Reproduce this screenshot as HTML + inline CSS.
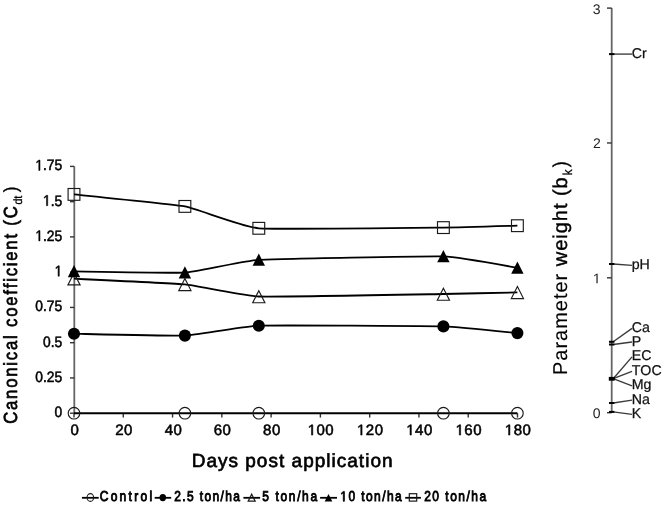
<!DOCTYPE html>
<html><head><meta charset="utf-8"><style>
html,body{margin:0;padding:0;background:#fff;overflow:hidden;}
svg{display:block;will-change:transform;}
text{font-family:"Liberation Sans",sans-serif;text-rendering:geometricPrecision;font-kerning:none;}
</style></head><body>
<svg width="666" height="507" viewBox="0 0 666 507">
<line x1="74.3" y1="166.4" x2="74.3" y2="413.2" stroke="#666" stroke-width="1.8"/>
<line x1="70" y1="413.20" x2="74.3" y2="413.20" stroke="#333" stroke-width="1.4"/>
<line x1="70" y1="377.94" x2="74.3" y2="377.94" stroke="#333" stroke-width="1.4"/>
<line x1="70" y1="342.69" x2="74.3" y2="342.69" stroke="#333" stroke-width="1.4"/>
<line x1="70" y1="307.43" x2="74.3" y2="307.43" stroke="#333" stroke-width="1.4"/>
<line x1="70" y1="272.17" x2="74.3" y2="272.17" stroke="#333" stroke-width="1.4"/>
<line x1="70" y1="236.91" x2="74.3" y2="236.91" stroke="#333" stroke-width="1.4"/>
<line x1="70" y1="201.66" x2="74.3" y2="201.66" stroke="#333" stroke-width="1.4"/>
<line x1="70" y1="166.40" x2="74.3" y2="166.40" stroke="#333" stroke-width="1.4"/>
<line x1="74.00" y1="413.2" x2="74.00" y2="417.6" stroke="#333" stroke-width="1.4"/>
<line x1="123.28" y1="413.2" x2="123.28" y2="417.6" stroke="#333" stroke-width="1.4"/>
<line x1="172.56" y1="413.2" x2="172.56" y2="417.6" stroke="#333" stroke-width="1.4"/>
<line x1="221.83" y1="413.2" x2="221.83" y2="417.6" stroke="#333" stroke-width="1.4"/>
<line x1="271.11" y1="413.2" x2="271.11" y2="417.6" stroke="#333" stroke-width="1.4"/>
<line x1="320.39" y1="413.2" x2="320.39" y2="417.6" stroke="#333" stroke-width="1.4"/>
<line x1="369.67" y1="413.2" x2="369.67" y2="417.6" stroke="#333" stroke-width="1.4"/>
<line x1="418.94" y1="413.2" x2="418.94" y2="417.6" stroke="#333" stroke-width="1.4"/>
<line x1="468.22" y1="413.2" x2="468.22" y2="417.6" stroke="#333" stroke-width="1.4"/>
<line x1="517.50" y1="413.2" x2="517.50" y2="417.6" stroke="#333" stroke-width="1.4"/>
<g transform="translate(54.46,417.20) scale(0.92,1)"><text x="0.000" y="0" font-size="15" font-weight="normal" letter-spacing="0.000" fill="#000" stroke="#000" stroke-width="0.55">0</text></g>
<g transform="translate(35.32,381.94) scale(0.92,1)"><text x="0.000" y="0" font-size="15" font-weight="normal" letter-spacing="0.000" fill="#000" stroke="#000" stroke-width="0.55">0.25</text></g>
<g transform="translate(43.00,346.69) scale(0.92,1)"><text x="0.000" y="0" font-size="15" font-weight="normal" letter-spacing="0.000" fill="#000" stroke="#000" stroke-width="0.55">0.5</text></g>
<g transform="translate(35.32,311.43) scale(0.92,1)"><text x="0.000" y="0" font-size="15" font-weight="normal" letter-spacing="0.000" fill="#000" stroke="#000" stroke-width="0.55">0.75</text></g>
<g transform="translate(54.60,276.17) scale(0.92,1)"><path transform="translate(0.000,0) scale(0.007324,-0.007324)" d="M515,0L515,1237L197,1010L197,1180L530,1409L696,1409L696,0Z" fill="#000" stroke="#000" stroke-width="75.1"/></g>
<g transform="translate(35.32,240.91) scale(0.92,1)"><path transform="translate(0.000,0) scale(0.007324,-0.007324)" d="M515,0L515,1237L197,1010L197,1180L530,1409L696,1409L696,0Z" fill="#000" stroke="#000" stroke-width="75.1"/><text x="8.342" y="0" font-size="15" font-weight="normal" letter-spacing="0.000" fill="#000" stroke="#000" stroke-width="0.55">.25</text></g>
<g transform="translate(43.00,205.66) scale(0.92,1)"><path transform="translate(0.000,0) scale(0.007324,-0.007324)" d="M515,0L515,1237L197,1010L197,1180L530,1409L696,1409L696,0Z" fill="#000" stroke="#000" stroke-width="75.1"/><text x="8.342" y="0" font-size="15" font-weight="normal" letter-spacing="0.000" fill="#000" stroke="#000" stroke-width="0.55">.5</text></g>
<g transform="translate(35.32,170.40) scale(0.92,1)"><path transform="translate(0.000,0) scale(0.007324,-0.007324)" d="M515,0L515,1237L197,1010L197,1180L530,1409L696,1409L696,0Z" fill="#000" stroke="#000" stroke-width="75.1"/><text x="8.342" y="0" font-size="15" font-weight="normal" letter-spacing="0.000" fill="#000" stroke="#000" stroke-width="0.55">.75</text></g>
<g transform="translate(70.43,435.1)"><text x="0.000" y="0" font-size="15" font-weight="normal" letter-spacing="0.500" fill="#000" stroke="#000" stroke-width="0.55">0</text></g>
<g transform="translate(115.20,435.1)"><text x="0.000" y="0" font-size="15" font-weight="normal" letter-spacing="0.500" fill="#000" stroke="#000" stroke-width="0.55">20</text></g>
<g transform="translate(164.68,435.1)"><text x="0.000" y="0" font-size="15" font-weight="normal" letter-spacing="0.500" fill="#000" stroke="#000" stroke-width="0.55">40</text></g>
<g transform="translate(213.75,435.1)"><text x="0.000" y="0" font-size="15" font-weight="normal" letter-spacing="0.500" fill="#000" stroke="#000" stroke-width="0.55">60</text></g>
<g transform="translate(263.09,435.1)"><text x="0.000" y="0" font-size="15" font-weight="normal" letter-spacing="0.500" fill="#000" stroke="#000" stroke-width="0.55">80</text></g>
<g transform="translate(307.70,435.1)"><path transform="translate(0.000,0) scale(0.007324,-0.007324)" d="M515,0L515,1237L197,1010L197,1180L530,1409L696,1409L696,0Z" fill="#000" stroke="#000" stroke-width="75.1"/><text x="8.842" y="0" font-size="15" font-weight="normal" letter-spacing="0.500" fill="#000" stroke="#000" stroke-width="0.55">00</text></g>
<g transform="translate(356.97,435.1)"><path transform="translate(0.000,0) scale(0.007324,-0.007324)" d="M515,0L515,1237L197,1010L197,1180L530,1409L696,1409L696,0Z" fill="#000" stroke="#000" stroke-width="75.1"/><text x="8.842" y="0" font-size="15" font-weight="normal" letter-spacing="0.500" fill="#000" stroke="#000" stroke-width="0.55">20</text></g>
<g transform="translate(406.25,435.1)"><path transform="translate(0.000,0) scale(0.007324,-0.007324)" d="M515,0L515,1237L197,1010L197,1180L530,1409L696,1409L696,0Z" fill="#000" stroke="#000" stroke-width="75.1"/><text x="8.842" y="0" font-size="15" font-weight="normal" letter-spacing="0.500" fill="#000" stroke="#000" stroke-width="0.55">40</text></g>
<g transform="translate(455.53,435.1)"><path transform="translate(0.000,0) scale(0.007324,-0.007324)" d="M515,0L515,1237L197,1010L197,1180L530,1409L696,1409L696,0Z" fill="#000" stroke="#000" stroke-width="75.1"/><text x="8.842" y="0" font-size="15" font-weight="normal" letter-spacing="0.500" fill="#000" stroke="#000" stroke-width="0.55">60</text></g>
<g transform="translate(504.81,435.1)"><path transform="translate(0.000,0) scale(0.007324,-0.007324)" d="M515,0L515,1237L197,1010L197,1180L530,1409L696,1409L696,0Z" fill="#000" stroke="#000" stroke-width="75.1"/><text x="8.842" y="0" font-size="15" font-weight="normal" letter-spacing="0.500" fill="#000" stroke="#000" stroke-width="0.55">80</text></g>
<g transform="translate(191.64,467.30) scale(1.0,1)"><text x="0.000" y="0" font-size="19" font-weight="normal" letter-spacing="1.015" fill="#000" stroke="#000" stroke-width="0.65">Days post application</text></g>
<g transform="translate(17.40,423.85) rotate(-90) scale(0.88,1)"><text x="0.000" y="0" font-size="19" font-weight="normal" letter-spacing="2.026" fill="#000" stroke="#000" stroke-width="0.7">Canonical coefficient (C</text></g>
<g transform="translate(22.20,204.45) rotate(-90) scale(0.9,1)"><text x="0.000" y="0" font-size="12" font-weight="normal" letter-spacing="-0.416" fill="#000" stroke="#000" stroke-width="0.25">dt</text></g>
<g transform="translate(17.40,192.30) rotate(-90) scale(0.9,1)"><text x="0.000" y="0" font-size="19" font-weight="normal" letter-spacing="-5.000" fill="#000" stroke="#000" stroke-width="0.35">)</text></g>
<g transform="translate(567.2,375.04) rotate(-90)"><text x="0.000" y="0" font-size="20" font-weight="normal" letter-spacing="0.983" fill="#000" stroke="#000" stroke-width="0.12">Parameter </text></g>
<g transform="translate(567.2,266.28) rotate(-90)"><text x="0.000" y="0" font-size="20" font-weight="normal" letter-spacing="0.983" fill="#000" stroke="#000" stroke-width="0.4">weight (b</text></g>
<g transform="translate(571.60,175.29) rotate(-90) scale(0.9,1)"><text x="0.000" y="0" font-size="13" font-weight="normal" letter-spacing="-5.000" fill="#000" stroke="#000" stroke-width="0.3">k</text></g>
<g transform="translate(567.20,167.31) rotate(-90) scale(0.9,1)"><text x="0.000" y="0" font-size="20" font-weight="normal" letter-spacing="-5.000" fill="#000" stroke="#000" stroke-width="0.3">)</text></g>
<path d="M74.00,413.20 C80.65,413.20 173.81,413.20 184.90,413.20 C195.99,413.20 243.29,413.20 258.80,413.20 C274.31,413.20 427.88,413.20 443.40,413.20 C458.92,413.20 512.96,413.20 517.40,413.20" fill="none" stroke="#000" stroke-width="1.85" stroke-linejoin="round"/>
<path d="M74.00,333.70 C80.65,333.81 173.81,336.08 184.90,335.60 C195.99,335.12 243.29,326.25 258.80,325.70 C274.31,325.15 427.88,325.96 443.40,326.40 C458.92,326.84 512.96,332.70 517.40,333.10" fill="none" stroke="#000" stroke-width="1.85" stroke-linejoin="round"/>
<path d="M74.00,278.70 C80.65,279.04 173.81,283.33 184.90,284.40 C195.99,285.47 243.29,295.92 258.80,296.50 C274.31,297.08 427.88,294.25 443.40,294.00 C458.92,293.75 512.96,292.50 517.40,292.40" fill="none" stroke="#000" stroke-width="1.85" stroke-linejoin="round"/>
<path d="M74.00,271.40 C80.65,271.47 173.81,273.30 184.90,272.60 C195.99,271.90 243.29,260.77 258.80,259.80 C274.31,258.83 427.88,255.92 443.40,256.40 C458.92,256.88 512.96,267.12 517.40,267.80" fill="none" stroke="#000" stroke-width="1.85" stroke-linejoin="round"/>
<path d="M74.00,194.40 C80.65,195.12 173.81,204.37 184.90,206.40 C195.99,208.43 243.29,227.03 258.80,228.30 C274.31,229.57 427.88,227.76 443.40,227.60 C458.92,227.44 512.96,225.81 517.40,225.70" fill="none" stroke="#000" stroke-width="1.85" stroke-linejoin="round"/>
<ellipse cx="74.00" cy="413.20" rx="5.8" ry="5.8" fill="none" stroke="#1a1a1a" stroke-width="1.15"/>
<ellipse cx="184.90" cy="413.20" rx="5.8" ry="5.8" fill="none" stroke="#1a1a1a" stroke-width="1.15"/>
<ellipse cx="258.80" cy="413.20" rx="5.8" ry="5.8" fill="none" stroke="#1a1a1a" stroke-width="1.15"/>
<ellipse cx="443.40" cy="413.20" rx="5.8" ry="5.8" fill="none" stroke="#1a1a1a" stroke-width="1.15"/>
<ellipse cx="517.40" cy="413.20" rx="5.8" ry="5.8" fill="none" stroke="#1a1a1a" stroke-width="1.15"/>
<ellipse cx="74.00" cy="333.70" rx="6.05" ry="6.05" fill="#000"/>
<ellipse cx="184.90" cy="335.60" rx="6.05" ry="6.05" fill="#000"/>
<ellipse cx="258.80" cy="325.70" rx="6.05" ry="6.05" fill="#000"/>
<ellipse cx="443.40" cy="326.40" rx="6.05" ry="6.05" fill="#000"/>
<ellipse cx="517.40" cy="333.10" rx="6.05" ry="6.05" fill="#000"/>
<polygon points="74.00,272.90 80.10,284.90 67.90,284.90" fill="none" stroke="#1a1a1a" stroke-width="1.15"/>
<polygon points="184.90,278.60 191.00,290.60 178.80,290.60" fill="none" stroke="#1a1a1a" stroke-width="1.15"/>
<polygon points="258.80,290.70 264.90,302.70 252.70,302.70" fill="none" stroke="#1a1a1a" stroke-width="1.15"/>
<polygon points="443.40,288.20 449.50,300.20 437.30,300.20" fill="none" stroke="#1a1a1a" stroke-width="1.15"/>
<polygon points="517.40,286.60 523.50,298.60 511.30,298.60" fill="none" stroke="#1a1a1a" stroke-width="1.15"/>
<polygon points="74.00,265.10 80.20,277.30 67.80,277.30" fill="#000"/>
<polygon points="184.90,266.30 191.10,278.50 178.70,278.50" fill="#000"/>
<polygon points="258.80,253.50 265.00,265.70 252.60,265.70" fill="#000"/>
<polygon points="443.40,250.10 449.60,262.30 437.20,262.30" fill="#000"/>
<polygon points="517.40,261.50 523.60,273.70 511.20,273.70" fill="#000"/>
<rect x="68.10" y="188.50" width="11.8" height="11.8" fill="none" stroke="#1a1a1a" stroke-width="1.15"/>
<rect x="179.00" y="200.50" width="11.8" height="11.8" fill="none" stroke="#1a1a1a" stroke-width="1.15"/>
<rect x="252.90" y="222.40" width="11.8" height="11.8" fill="none" stroke="#1a1a1a" stroke-width="1.15"/>
<rect x="437.50" y="221.70" width="11.8" height="11.8" fill="none" stroke="#1a1a1a" stroke-width="1.15"/>
<rect x="511.50" y="219.80" width="11.8" height="11.8" fill="none" stroke="#1a1a1a" stroke-width="1.15"/>
<line x1="81.9" y1="497.8" x2="98.7" y2="497.8" stroke="#000" stroke-width="1.8"/>
<ellipse cx="90.35" cy="497.50" rx="3.3" ry="3.9" fill="none" stroke="#1a1a1a" stroke-width="1.1"/>
<g transform="translate(99.69,501.30) scale(0.84,1)"><text x="0.000" y="0" font-size="14.3" font-weight="normal" letter-spacing="2.717" fill="#000" stroke="#000" stroke-width="0.9">Control</text></g>
<line x1="154.7" y1="497.8" x2="171.2" y2="497.8" stroke="#000" stroke-width="1.8"/>
<ellipse cx="162.80" cy="497.60" rx="3.3" ry="3.7" fill="#000"/>
<g transform="translate(174.30,501.30) scale(0.84,1)"><text x="0.000" y="0" font-size="14.3" font-weight="normal" letter-spacing="1.623" fill="#000" stroke="#000" stroke-width="0.9">2.5 ton/ha</text></g>
<line x1="243.4" y1="497.8" x2="260.1" y2="497.8" stroke="#000" stroke-width="1.8"/>
<polygon points="251.70,494.20 255.20,501.20 248.20,501.20" fill="none" stroke="#1a1a1a" stroke-width="1.2"/>
<g transform="translate(262.32,501.30) scale(0.84,1)"><text x="0.000" y="0" font-size="14.3" font-weight="normal" letter-spacing="1.933" fill="#000" stroke="#000" stroke-width="0.9">5 ton/ha</text></g>
<line x1="320.1" y1="497.8" x2="337.0" y2="497.8" stroke="#000" stroke-width="1.8"/>
<polygon points="328.50,494.00 332.30,501.40 324.70,501.40" fill="#000"/>
<g transform="translate(340.29,501.30) scale(0.84,1)"><path transform="translate(0.000,0) scale(0.006982,-0.006982)" d="M515,0L515,1237L197,1010L197,1180L530,1409L696,1409L696,0Z" fill="#000" stroke="#000" stroke-width="128.9"/><text x="9.638" y="0" font-size="14.3" font-weight="normal" letter-spacing="1.685" fill="#000" stroke="#000" stroke-width="0.9">0 ton/ha</text></g>
<line x1="405.2" y1="497.8" x2="420.9" y2="497.8" stroke="#000" stroke-width="1.8"/>
<rect x="409.30" y="493.70" width="7.4" height="7.4" fill="none" stroke="#1a1a1a" stroke-width="1.2"/>
<g transform="translate(424.20,501.30) scale(0.84,1)"><text x="0.000" y="0" font-size="14.3" font-weight="normal" letter-spacing="1.757" fill="#000" stroke="#000" stroke-width="0.9">20 ton/ha</text></g>
<line x1="611.7" y1="8.1" x2="611.7" y2="412.7" stroke="#666" stroke-width="1.8"/>
<line x1="607" y1="412.70" x2="611.7" y2="412.70" stroke="#333" stroke-width="1.4"/>
<g transform="translate(592.76,418.20)"><text x="0.000" y="0" font-size="14" font-weight="normal" letter-spacing="0.000" fill="#222">0</text></g>
<line x1="607" y1="277.83" x2="611.7" y2="277.83" stroke="#333" stroke-width="1.4"/>
<g transform="translate(592.90,283.33)"><path transform="translate(0.000,0) scale(0.006836,-0.006836)" d="M515,0L515,1237L197,1010L197,1180L530,1409L696,1409L696,0Z" fill="#222"/></g>
<line x1="607" y1="142.97" x2="611.7" y2="142.97" stroke="#333" stroke-width="1.4"/>
<g transform="translate(592.92,148.47)"><text x="0.000" y="0" font-size="14" font-weight="normal" letter-spacing="0.000" fill="#222">2</text></g>
<line x1="607" y1="8.10" x2="611.7" y2="8.10" stroke="#333" stroke-width="1.4"/>
<g transform="translate(592.83,13.60)"><text x="0.000" y="0" font-size="14" font-weight="normal" letter-spacing="0.000" fill="#222">3</text></g>
<line x1="613.2" y1="54.1" x2="632" y2="54.1" stroke="#3a3a3a" stroke-width="1.35"/>
<line x1="613.2" y1="264.0" x2="632" y2="265.4" stroke="#3a3a3a" stroke-width="1.35"/>
<line x1="613.2" y1="341.8" x2="632" y2="328.4" stroke="#3a3a3a" stroke-width="1.35"/>
<line x1="613.2" y1="344.5" x2="632" y2="342.0" stroke="#3a3a3a" stroke-width="1.35"/>
<line x1="613.2" y1="378.7" x2="632" y2="356.9" stroke="#3a3a3a" stroke-width="1.35"/>
<line x1="613.2" y1="378.7" x2="632" y2="371.3" stroke="#3a3a3a" stroke-width="1.35"/>
<line x1="613.2" y1="378.7" x2="632" y2="385.9" stroke="#3a3a3a" stroke-width="1.35"/>
<line x1="613.2" y1="403.0" x2="632" y2="400.2" stroke="#3a3a3a" stroke-width="1.35"/>
<line x1="613.2" y1="411.9" x2="632" y2="414.4" stroke="#3a3a3a" stroke-width="1.35"/>
<line x1="609" y1="54.1" x2="614.4" y2="54.1" stroke="#000" stroke-width="2"/>
<text x="631.7" y="57.60" font-size="14.2" fill="#111" stroke="#111" stroke-width="0.25">Cr</text>
<line x1="609" y1="264.0" x2="614.4" y2="264.0" stroke="#000" stroke-width="2"/>
<text x="631.7" y="268.90" font-size="14.2" fill="#111" stroke="#111" stroke-width="0.25">pH</text>
<line x1="609" y1="341.8" x2="614.4" y2="341.8" stroke="#000" stroke-width="2"/>
<text x="631.7" y="331.90" font-size="14.2" fill="#111" stroke="#111" stroke-width="0.25">Ca</text>
<line x1="609" y1="344.5" x2="614.4" y2="344.5" stroke="#000" stroke-width="2"/>
<text x="631.7" y="345.50" font-size="14.2" fill="#111" stroke="#111" stroke-width="0.25">P</text>
<line x1="609" y1="378.7" x2="614.4" y2="378.7" stroke="#000" stroke-width="2"/>
<text x="631.7" y="360.40" font-size="14.2" fill="#111" stroke="#111" stroke-width="0.25">EC</text>
<line x1="609" y1="378.7" x2="614.4" y2="378.7" stroke="#000" stroke-width="2"/>
<text x="631.7" y="374.80" font-size="14.2" fill="#111" stroke="#111" stroke-width="0.25">TOC</text>
<line x1="609" y1="378.7" x2="614.4" y2="378.7" stroke="#000" stroke-width="2"/>
<text x="631.7" y="389.40" font-size="14.2" fill="#111" stroke="#111" stroke-width="0.25">Mg</text>
<line x1="609" y1="403.0" x2="614.4" y2="403.0" stroke="#000" stroke-width="2"/>
<text x="631.7" y="403.70" font-size="14.2" fill="#111" stroke="#111" stroke-width="0.25">Na</text>
<line x1="609" y1="411.9" x2="614.4" y2="411.9" stroke="#000" stroke-width="2"/>
<text x="631.7" y="417.90" font-size="14.2" fill="#111" stroke="#111" stroke-width="0.25">K</text>
<rect x="608.8" y="376.9" width="5.8" height="3.8" fill="#000"/>
</svg></body></html>
